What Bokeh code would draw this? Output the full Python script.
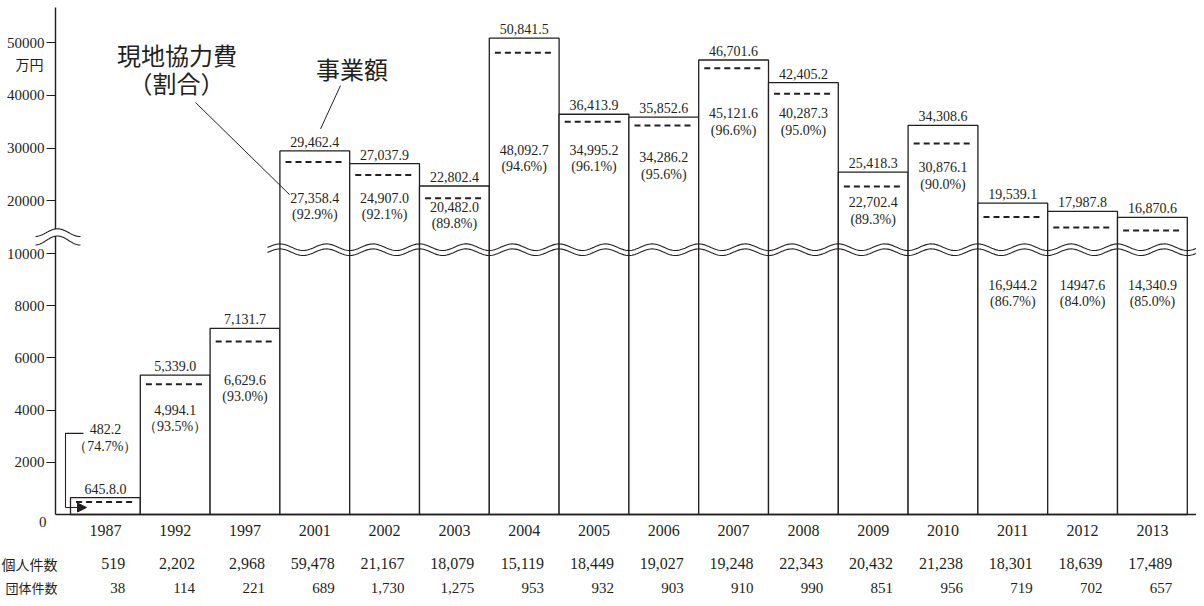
import math
import numpy as np
from bokeh.plotting import figure
from bokeh.models import (Range1d, FixedTicker, ColumnDataSource, Arrow, NormalHead)
from bokeh.core.properties import value
from bokeh.embed import file_html
from bokeh.resources import INLINE

# ---------------- data ----------------
years = ["1987", "1992", "1997", "2001", "2002", "2003", "2004", "2005",
         "2006", "2007", "2008", "2009", "2010", "2011", "2012", "2013"]
total = [645.8, 5339.0, 7131.7, 29462.4, 27037.9, 22802.4, 50841.5, 36413.9,
         35852.6, 46701.6, 42405.2, 25418.3, 34308.6, 19539.1, 17987.8, 16870.6]
total_text = ["645.8.0", "5,339.0", "7,131.7", "29,462.4", "27,037.9", "22,802.4",
              "50,841.5", "36,413.9", "35,852.6", "46,701.6", "42,405.2", "25,418.3",
              "34,308.6", "19,539.1", "17,987.8", "16,870.6"]
local = [482.2, 4994.1, 6629.6, 27358.4, 24907.0, 20482.0, 48092.7, 34995.2,
         34286.2, 45121.6, 40287.3, 22702.4, 30876.1, 16944.2, 14947.6, 14340.9]
local_text = ["482.2", "4,994.1", "6,629.6", "27,358.4", "24,907.0", "20,482.0",
              "48,092.7", "34,995.2", "34,286.2", "45,121.6", "40,287.3", "22,702.4",
              "30,876.1", "16,944.2", "14947.6", "14,340.9"]
share = [74.7, 93.5, 93.0, 92.9, 92.1, 89.8, 94.6, 96.1,
         95.6, 96.6, 95.0, 89.3, 90.0, 86.7, 84.0, 85.0]
individual = [519, 2202, 2968, 59478, 21167, 18079, 15119, 18449,
              19027, 19248, 22343, 20432, 21238, 18301, 18639, 17489]
group = [38, 114, 221, 689, 1730, 1275, 953, 932,
         903, 910, 990, 851, 956, 719, 702, 657]
y_ticks = [2000, 4000, 6000, 8000, 10000, 20000, 30000, 40000, 50000]
unit_label = "万円"
row_labels = ["個人件数", "団体件数"]
legend_local = ["現地協力費", "（割合）"]
legend_total = "事業額"

# ---------------- layout (positions only) ----------------
INK = "#231f20"
SERIF = "Liberation Serif"
CJK = "Noto Sans CJK JP"
BREAK = 10000.0
RATIO = 0.202              # compression of the part above the break
UNIT = 1 / 0.0261          # display units per pixel
BAR_PX = 69.8
X0_PX = 104.9
BASE_PX = 514.0
W, H = 1196, 598

def disp(v):
    return v if v <= BREAK else BREAK + (v - BREAK) * RATIO

def px2x(X):
    return (X - X0_PX) / BAR_PX

def px2d(Y):
    return (BASE_PX - Y) * UNIT

# vertical placement of the inner (local cost) labels, in value units
inner_at = [3260, 4020, 5160, 20600, 20600, 18900, 29700, 29700,
            28300, 36600, 36600, 19700, 26400, 8800, 8800, 8800]

n = len(years)
idx = list(range(n))

p = figure(width=W, height=H, output_backend="svg", toolbar_location=None,
           x_range=Range1d(px2x(0), px2x(W)), y_range=Range1d(px2d(H), px2d(0)),
           min_border=0)
p.outline_line_color = None
p.xgrid.visible = False
p.ygrid.visible = False
p.background_fill_color = "white"
p.border_fill_color = "white"

# y axis (drawn inside the frame at a fixed position)
ytick_pos = [int(round(disp(v))) for v in y_ticks]
yax = p.yaxis[0]
yax.fixed_location = px2x(55)
yax.ticker = FixedTicker(ticks=ytick_pos)
yax.major_label_overrides = {tp: str(v) for tp, v in zip(ytick_pos, y_ticks)}
yax.bounds = (0, px2d(7))
yax.axis_line_color = INK
yax.axis_line_width = 1.4
yax.major_tick_line_color = INK
yax.major_tick_line_width = 1.2
yax.major_tick_out = 9
yax.major_tick_in = 0
yax.minor_tick_line_color = None
yax.major_label_standoff = 2
yax.major_label_text_font = SERIF
yax.major_label_text_font_size = "15px"
yax.major_label_text_color = INK

# x axis (years)
xax = p.xaxis[0]
xax.fixed_location = 0
xax.ticker = FixedTicker(ticks=idx)
xax.major_label_overrides = {i: years[i] for i in idx}
xax.bounds = (px2x(55), px2x(1197))
xax.axis_line_color = INK
xax.axis_line_width = 1.4
xax.major_tick_line_color = None
xax.minor_tick_line_color = None
xax.major_tick_out = 0
xax.major_tick_in = 0
xax.major_label_standoff = 10
xax.major_label_text_font = SERIF
xax.major_label_text_font_size = "16px"
xax.major_label_text_color = INK

# bars
bars = ColumnDataSource(dict(
    left=[i - 0.5 for i in idx], right=[i + 0.5 for i in idx],
    top=[disp(v) for v in total], bottom=[0] * n))
p.quad(left="left", right="right", top="top", bottom="bottom", source=bars,
       fill_color="white", line_color=INK, line_width=1.3)

# local cost dashed lines
inset = 0.08
p.segment(x0=[i - 0.5 + inset for i in idx], x1=[i + 0.5 - inset for i in idx],
          y0=[disp(v) for v in local], y1=[disp(v) for v in local],
          line_color=INK, line_width=2, line_dash="6 4")

# total labels above bars
p.text(x=idx, y=[disp(v) + 9 * UNIT for v in total], text=total_text,
       text_font=value(SERIF), text_font_size="14px", text_color=INK,
       text_align="center", text_baseline="middle")

# inner labels
share_text = []
for i, s in enumerate(share):
    if i < 2:
        share_text.append("（%.1f%%）" % s)
    else:
        share_text.append("(%.1f%%)" % s)
p.text(x=idx, y=[disp(v) for v in inner_at], text=local_text,
       text_font=value(SERIF), text_font_size="14px", text_color=INK,
       text_align="center", text_baseline="middle")
p.text(x=idx, y=[disp(v) - 17 * UNIT for v in inner_at], text=share_text,
       text_font=value(SERIF), text_font_size="14px", text_color=INK,
       text_align="center", text_baseline="middle")

# wavy break across bars
wx = np.linspace(px2x(267), px2x(1200), 600)
phase = np.cos(3 * math.pi * (wx + 1 / 6))
amp = 3.3 * UNIT
p.multi_line(xs=[wx.tolist(), wx.tolist()],
             ys=[(px2d(246.7) + amp * phase).tolist(), (px2d(251.7) + amp * phase).tolist()],
             line_color=INK, line_width=1.1)

# axis break symbol (over the axis line)
bx_px = np.linspace(35, 80, 60)
hump = (1 + np.cos(2 * math.pi * (bx_px - 57) / 45)) / 2
up_y = [px2d(y) for y in (236.0 - 7.7 * hump)]
lo_y = [px2d(y) for y in (244.5 - 9.0 * hump)]
bx = [px2x(x) for x in bx_px]
r1 = p.patch(x=bx + bx[::-1], y=up_y + lo_y[::-1], fill_color="white", line_color=None)
r2 = p.multi_line(xs=[bx, bx], ys=[up_y, lo_y], line_color=INK, line_width=1.1)
r1.level = "overlay"
r2.level = "overlay"

# bracket & arrow for 1987
y_br_top = disp(inner_at[0]) - 4 * UNIT
y_arrow = disp(local[0]) - 5.6 * UNIT
p.line(x=[px2x(83), px2x(65), px2x(65)], y=[y_br_top, y_br_top, y_arrow],
       line_color=INK, line_width=1.1)
p.add_layout(Arrow(end=NormalHead(size=9, fill_color=INK, line_color=INK),
                   x_start=px2x(65), y_start=y_arrow, x_end=px2x(86), y_end=y_arrow,
                   line_color=INK, line_width=1.1))

# callouts
p.text(x=[px2x(176.5)], y=[px2d(54)], text=[legend_local[0]],
       text_font=value(CJK), text_font_size="24px", text_color=INK,
       text_align="center", text_baseline="middle")
p.text(x=[px2x(176)], y=[px2d(82)], text=[legend_local[1]],
       text_font=value(CJK), text_font_size="24px", text_color=INK,
       text_align="center", text_baseline="middle")
p.text(x=[px2x(351.5)], y=[px2d(67.5)], text=[legend_total],
       text_font=value(CJK), text_font_size="24px", text_color=INK,
       text_align="center", text_baseline="middle")
p.segment(x0=[px2x(195), px2x(340)], y0=[px2d(102), px2d(85)],
          x1=[3 - 0.362, 3 + 0.083], y1=[disp(inner_at[3]) + 3 * UNIT, disp(total[3]) + 22 * UNIT],
          line_color=INK, line_width=1.0)

# y unit and zero label
p.text(x=[px2x(29)], y=[px2d(63)], text=[unit_label], text_font=value(CJK),
       text_font_size="14px", text_color=INK, text_align="center", text_baseline="middle")
p.text(x=[px2x(46)], y=[px2d(521)], text=["0"], text_font=value(SERIF),
       text_font_size="15px", text_color=INK, text_align="right", text_baseline="middle")

# table rows below the axis
row1_y, row2_y = px2d(563), px2d(587)
p.text(x=[i + 0.5 - 15 / BAR_PX for i in idx], y=[row1_y] * n,
       text=[f"{v:,}" for v in individual], text_font=value(SERIF), text_font_size="16px",
       text_color=INK, text_align="right", text_baseline="middle")
p.text(x=[i + 0.5 - 15 / BAR_PX for i in idx], y=[row2_y] * n,
       text=[f"{v:,}" for v in group], text_font=value(SERIF), text_font_size="15px",
       text_color=INK, text_align="right", text_baseline="middle")
p.text(x=[px2x(57)], y=[row1_y], text=[row_labels[0]], text_font=value(CJK),
       text_font_size="14px", text_color=INK, text_align="right", text_baseline="middle")
p.text(x=[px2x(57)], y=[row2_y], text=[row_labels[1]], text_font=value(CJK),
       text_font_size="13px", text_color=INK, text_align="right", text_baseline="middle")

open("out.html", "w").write(file_html(p, INLINE))
